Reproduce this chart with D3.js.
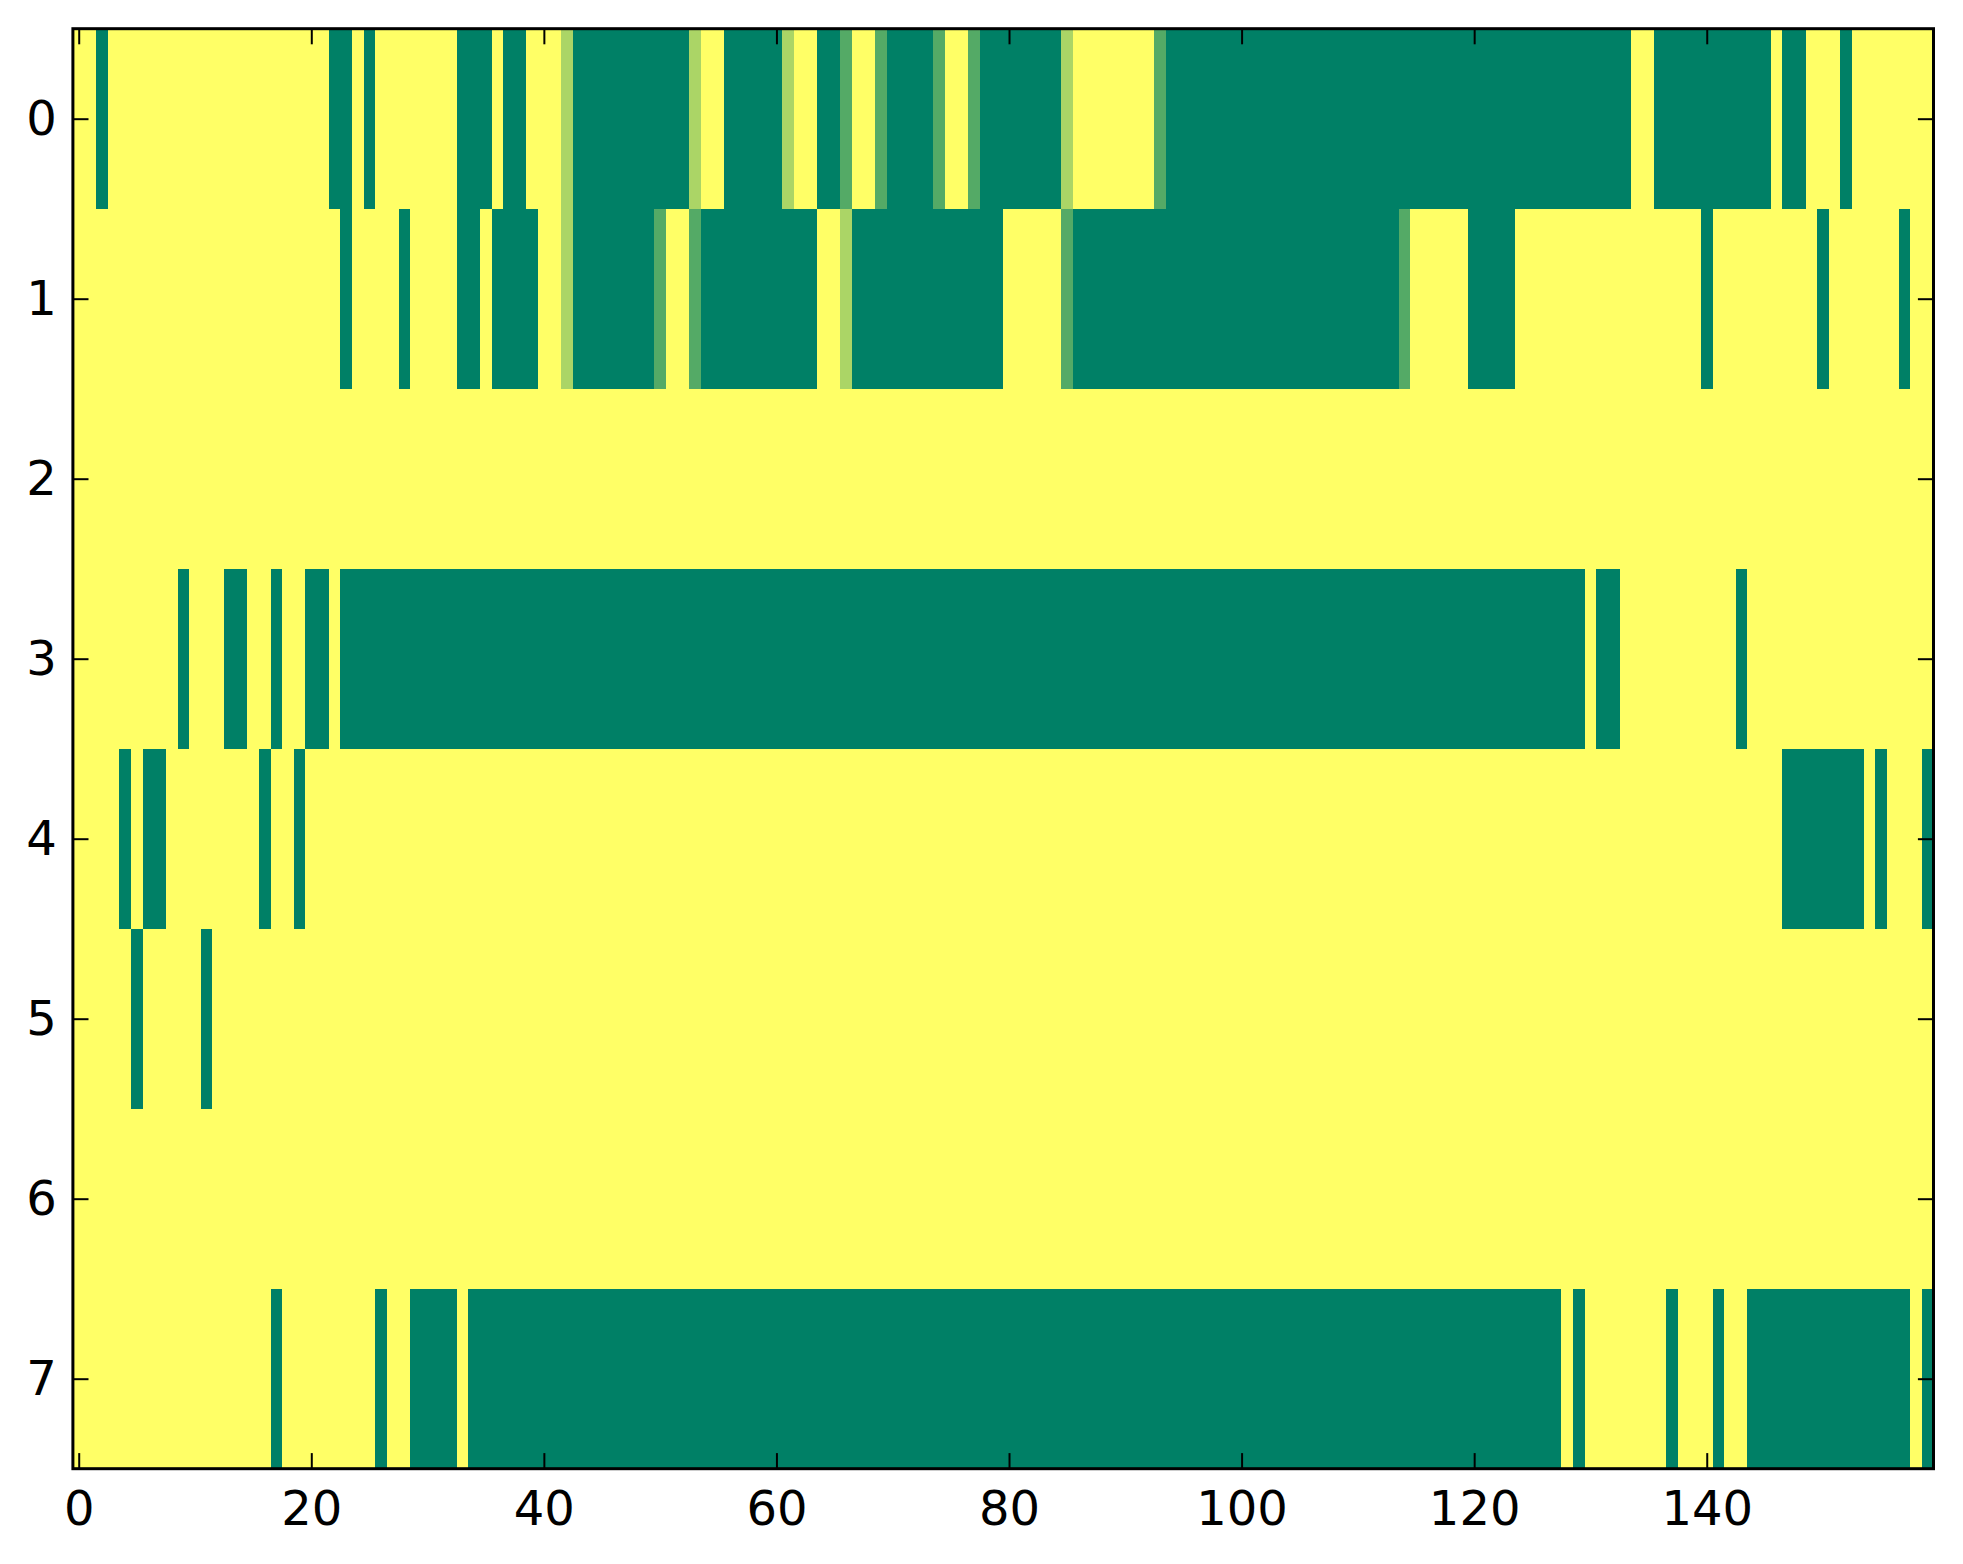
<!DOCTYPE html>
<html>
<head>
<meta charset="utf-8">
<script src="https://cdn.jsdelivr.net/npm/d3@7"></script>
<style>
    body { margin: 0; background: #ffffff; }
    .axis text { font-family: "DejaVu Sans", sans-serif; font-size: 48px; fill: #000; }
    .axis line { stroke: #000; stroke-width: 2px; }
</style>
</head>
<body>
<svg id="chart"></svg>
<script>
// значения ячеек по строкам (160 столбцов, 0 = зелёный, 1 = жёлтый)
const row0 = [
    1, 1, 0, 1, 1, 1, 1, 1, 1, 1, 1, 1, 1, 1, 1, 1, 1, 1, 1, 1,
    1, 1, 0, 0, 1, 0, 1, 1, 1, 1, 1, 1, 1, 0, 0, 0, 1, 0, 0, 1,
    1, 1, 0.67, 0, 0, 0, 0, 0, 0, 0, 0, 0, 0, 0.67, 1, 1, 0, 0, 0, 0,
    0, 0.67, 1, 1, 0, 0, 0.33, 1, 1, 0.33, 0, 0, 0, 0, 0.33, 1, 1, 0.33, 0, 0,
    0, 0, 0, 0, 0, 0.67, 1, 1, 1, 1, 1, 1, 1, 0.33, 0, 0, 0, 0, 0, 0,
    0, 0, 0, 0, 0, 0, 0, 0, 0, 0, 0, 0, 0, 0, 0, 0, 0, 0, 0, 0,
    0, 0, 0, 0, 0, 0, 0, 0, 0, 0, 0, 0, 0, 0, 1, 1, 0, 0, 0, 0,
    0, 0, 0, 0, 0, 0, 1, 0, 0, 1, 1, 1, 0, 1, 1, 1, 1, 1, 1, 1
];
const row1 = [
    1, 1, 1, 1, 1, 1, 1, 1, 1, 1, 1, 1, 1, 1, 1, 1, 1, 1, 1, 1,
    1, 1, 1, 0, 1, 1, 1, 1, 0, 1, 1, 1, 1, 0, 0, 1, 0, 0, 0, 0,
    1, 1, 0.67, 0, 0, 0, 0, 0, 0, 0, 0.33, 1, 1, 0.33, 0, 0, 0, 0, 0, 0,
    0, 0, 0, 0, 1, 1, 0.67, 0, 0, 0, 0, 0, 0, 0, 0, 0, 0, 0, 0, 0,
    1, 1, 1, 1, 1, 0.33, 0, 0, 0, 0, 0, 0, 0, 0, 0, 0, 0, 0, 0, 0,
    0, 0, 0, 0, 0, 0, 0, 0, 0, 0, 0, 0, 0, 0, 0.33, 1, 1, 1, 1, 1,
    0, 0, 0, 0, 1, 1, 1, 1, 1, 1, 1, 1, 1, 1, 1, 1, 1, 1, 1, 1,
    0, 1, 1, 1, 1, 1, 1, 1, 1, 1, 0, 1, 1, 1, 1, 1, 1, 0, 1, 1
];
const row2 = [
    1, 1, 1, 1, 1, 1, 1, 1, 1, 1, 1, 1, 1, 1, 1, 1, 1, 1, 1, 1,
    1, 1, 1, 1, 1, 1, 1, 1, 1, 1, 1, 1, 1, 1, 1, 1, 1, 1, 1, 1,
    1, 1, 1, 1, 1, 1, 1, 1, 1, 1, 1, 1, 1, 1, 1, 1, 1, 1, 1, 1,
    1, 1, 1, 1, 1, 1, 1, 1, 1, 1, 1, 1, 1, 1, 1, 1, 1, 1, 1, 1,
    1, 1, 1, 1, 1, 1, 1, 1, 1, 1, 1, 1, 1, 1, 1, 1, 1, 1, 1, 1,
    1, 1, 1, 1, 1, 1, 1, 1, 1, 1, 1, 1, 1, 1, 1, 1, 1, 1, 1, 1,
    1, 1, 1, 1, 1, 1, 1, 1, 1, 1, 1, 1, 1, 1, 1, 1, 1, 1, 1, 1,
    1, 1, 1, 1, 1, 1, 1, 1, 1, 1, 1, 1, 1, 1, 1, 1, 1, 1, 1, 1
];
const row3 = [
    1, 1, 1, 1, 1, 1, 1, 1, 1, 0, 1, 1, 1, 0, 0, 1, 1, 0, 1, 1,
    0, 0, 1, 0, 0, 0, 0, 0, 0, 0, 0, 0, 0, 0, 0, 0, 0, 0, 0, 0,
    0, 0, 0, 0, 0, 0, 0, 0, 0, 0, 0, 0, 0, 0, 0, 0, 0, 0, 0, 0,
    0, 0, 0, 0, 0, 0, 0, 0, 0, 0, 0, 0, 0, 0, 0, 0, 0, 0, 0, 0,
    0, 0, 0, 0, 0, 0, 0, 0, 0, 0, 0, 0, 0, 0, 0, 0, 0, 0, 0, 0,
    0, 0, 0, 0, 0, 0, 0, 0, 0, 0, 0, 0, 0, 0, 0, 0, 0, 0, 0, 0,
    0, 0, 0, 0, 0, 0, 0, 0, 0, 0, 1, 0, 0, 1, 1, 1, 1, 1, 1, 1,
    1, 1, 1, 0, 1, 1, 1, 1, 1, 1, 1, 1, 1, 1, 1, 1, 1, 1, 1, 1
];
const row4 = [
    1, 1, 1, 1, 0, 1, 0, 0, 1, 1, 1, 1, 1, 1, 1, 1, 0, 1, 1, 0,
    1, 1, 1, 1, 1, 1, 1, 1, 1, 1, 1, 1, 1, 1, 1, 1, 1, 1, 1, 1,
    1, 1, 1, 1, 1, 1, 1, 1, 1, 1, 1, 1, 1, 1, 1, 1, 1, 1, 1, 1,
    1, 1, 1, 1, 1, 1, 1, 1, 1, 1, 1, 1, 1, 1, 1, 1, 1, 1, 1, 1,
    1, 1, 1, 1, 1, 1, 1, 1, 1, 1, 1, 1, 1, 1, 1, 1, 1, 1, 1, 1,
    1, 1, 1, 1, 1, 1, 1, 1, 1, 1, 1, 1, 1, 1, 1, 1, 1, 1, 1, 1,
    1, 1, 1, 1, 1, 1, 1, 1, 1, 1, 1, 1, 1, 1, 1, 1, 1, 1, 1, 1,
    1, 1, 1, 1, 1, 1, 1, 0, 0, 0, 0, 0, 0, 0, 1, 0, 1, 1, 1, 0
];
const row5 = [
    1, 1, 1, 1, 1, 0, 1, 1, 1, 1, 1, 0, 1, 1, 1, 1, 1, 1, 1, 1,
    1, 1, 1, 1, 1, 1, 1, 1, 1, 1, 1, 1, 1, 1, 1, 1, 1, 1, 1, 1,
    1, 1, 1, 1, 1, 1, 1, 1, 1, 1, 1, 1, 1, 1, 1, 1, 1, 1, 1, 1,
    1, 1, 1, 1, 1, 1, 1, 1, 1, 1, 1, 1, 1, 1, 1, 1, 1, 1, 1, 1,
    1, 1, 1, 1, 1, 1, 1, 1, 1, 1, 1, 1, 1, 1, 1, 1, 1, 1, 1, 1,
    1, 1, 1, 1, 1, 1, 1, 1, 1, 1, 1, 1, 1, 1, 1, 1, 1, 1, 1, 1,
    1, 1, 1, 1, 1, 1, 1, 1, 1, 1, 1, 1, 1, 1, 1, 1, 1, 1, 1, 1,
    1, 1, 1, 1, 1, 1, 1, 1, 1, 1, 1, 1, 1, 1, 1, 1, 1, 1, 1, 1
];
const row6 = [
    1, 1, 1, 1, 1, 1, 1, 1, 1, 1, 1, 1, 1, 1, 1, 1, 1, 1, 1, 1,
    1, 1, 1, 1, 1, 1, 1, 1, 1, 1, 1, 1, 1, 1, 1, 1, 1, 1, 1, 1,
    1, 1, 1, 1, 1, 1, 1, 1, 1, 1, 1, 1, 1, 1, 1, 1, 1, 1, 1, 1,
    1, 1, 1, 1, 1, 1, 1, 1, 1, 1, 1, 1, 1, 1, 1, 1, 1, 1, 1, 1,
    1, 1, 1, 1, 1, 1, 1, 1, 1, 1, 1, 1, 1, 1, 1, 1, 1, 1, 1, 1,
    1, 1, 1, 1, 1, 1, 1, 1, 1, 1, 1, 1, 1, 1, 1, 1, 1, 1, 1, 1,
    1, 1, 1, 1, 1, 1, 1, 1, 1, 1, 1, 1, 1, 1, 1, 1, 1, 1, 1, 1,
    1, 1, 1, 1, 1, 1, 1, 1, 1, 1, 1, 1, 1, 1, 1, 1, 1, 1, 1, 1
];
const row7 = [
    1, 1, 1, 1, 1, 1, 1, 1, 1, 1, 1, 1, 1, 1, 1, 1, 1, 0, 1, 1,
    1, 1, 1, 1, 1, 1, 0, 1, 1, 0, 0, 0, 0, 1, 0, 0, 0, 0, 0, 0,
    0, 0, 0, 0, 0, 0, 0, 0, 0, 0, 0, 0, 0, 0, 0, 0, 0, 0, 0, 0,
    0, 0, 0, 0, 0, 0, 0, 0, 0, 0, 0, 0, 0, 0, 0, 0, 0, 0, 0, 0,
    0, 0, 0, 0, 0, 0, 0, 0, 0, 0, 0, 0, 0, 0, 0, 0, 0, 0, 0, 0,
    0, 0, 0, 0, 0, 0, 0, 0, 0, 0, 0, 0, 0, 0, 0, 0, 0, 0, 0, 0,
    0, 0, 0, 0, 0, 0, 0, 0, 1, 0, 1, 1, 1, 1, 1, 1, 1, 0, 1, 1,
    1, 0, 1, 1, 0, 0, 0, 0, 0, 0, 0, 0, 0, 0, 0, 0, 0, 0, 1, 0
];
const rows = [row0, row1, row2, row3, row4, row5, row6, row7];

// подписи делений
const xTicks = [0, 20, 40, 60, 80, 100, 120, 140];
const yTicks = [0, 1, 2, 3, 4, 5, 6, 7];

const width = 1963;
const height = 1564;
const plotLeft = 72.9, plotRight = 1933.5, plotTop = 28.7, plotBottom = 1468.7;
const tickLen = 15.6;

const svg = d3.select("#chart")
    .attr("width", width)
    .attr("height", height);

// шкалы
const scaleX = d3.scaleLinear().domain([-0.5, 159.5]).range([plotLeft, plotRight]);
const scaleY = d3.scaleLinear().domain([-0.5, 7.5]).range([plotTop, plotBottom]);

// цветовая карта summer
const color = d3.scaleLinear().domain([0, 1]).range(["#008066", "#ffff66"]);

// формируем массив ячеек
let cells = [];
rows.forEach((r, i) => {
    r.forEach((v, j) => {
        cells.push({ row: i, col: j, value: v });
    });
});

svg.append("g")
    .attr("shape-rendering", "crispEdges")
    .selectAll("rect")
    .data(cells)
    .enter()
    .append("rect")
    .attr("x", d => scaleX(d.col - 0.5))
    .attr("y", d => scaleY(d.row - 0.5))
    .attr("width", d => scaleX(d.col + 0.5) - scaleX(d.col - 0.5) + 0.5)
    .attr("height", d => scaleY(d.row + 0.5) - scaleY(d.row - 0.5) + 0.5)
    .attr("fill", d => color(d.value));

// оси
const axisBottom = d3.axisBottom(scaleX).tickValues(xTicks).tickSizeInner(-tickLen).tickSizeOuter(0).tickPadding(22.2);
const axisTop = d3.axisTop(scaleX).tickValues(xTicks).tickSizeInner(-tickLen).tickSizeOuter(0).tickFormat("");
const axisLeft = d3.axisLeft(scaleY).tickValues(yTicks).tickSizeInner(-tickLen).tickSizeOuter(0).tickPadding(16);
const axisRight = d3.axisRight(scaleY).tickValues(yTicks).tickSizeInner(-tickLen).tickSizeOuter(0).tickFormat("");

svg.append("g").attr("class", "axis").attr("transform", `translate(0, ${plotBottom})`).call(axisBottom);
svg.append("g").attr("class", "axis").attr("transform", `translate(0, ${plotTop})`).call(axisTop);
svg.append("g").attr("class", "axis").attr("transform", `translate(${plotLeft}, 0)`).call(axisLeft);
svg.append("g").attr("class", "axis").attr("transform", `translate(${plotRight}, 0)`).call(axisRight);

svg.selectAll(".axis .domain").remove();
svg.selectAll(".axis text").attr("font-family", null).attr("font-size", null);

// рамка
svg.append("rect")
    .attr("x", plotLeft)
    .attr("y", plotTop)
    .attr("width", plotRight - plotLeft)
    .attr("height", plotBottom - plotTop)
    .attr("fill", "none")
    .attr("stroke", "#000")
    .attr("stroke-width", 3);
</script>
</body>
</html>
